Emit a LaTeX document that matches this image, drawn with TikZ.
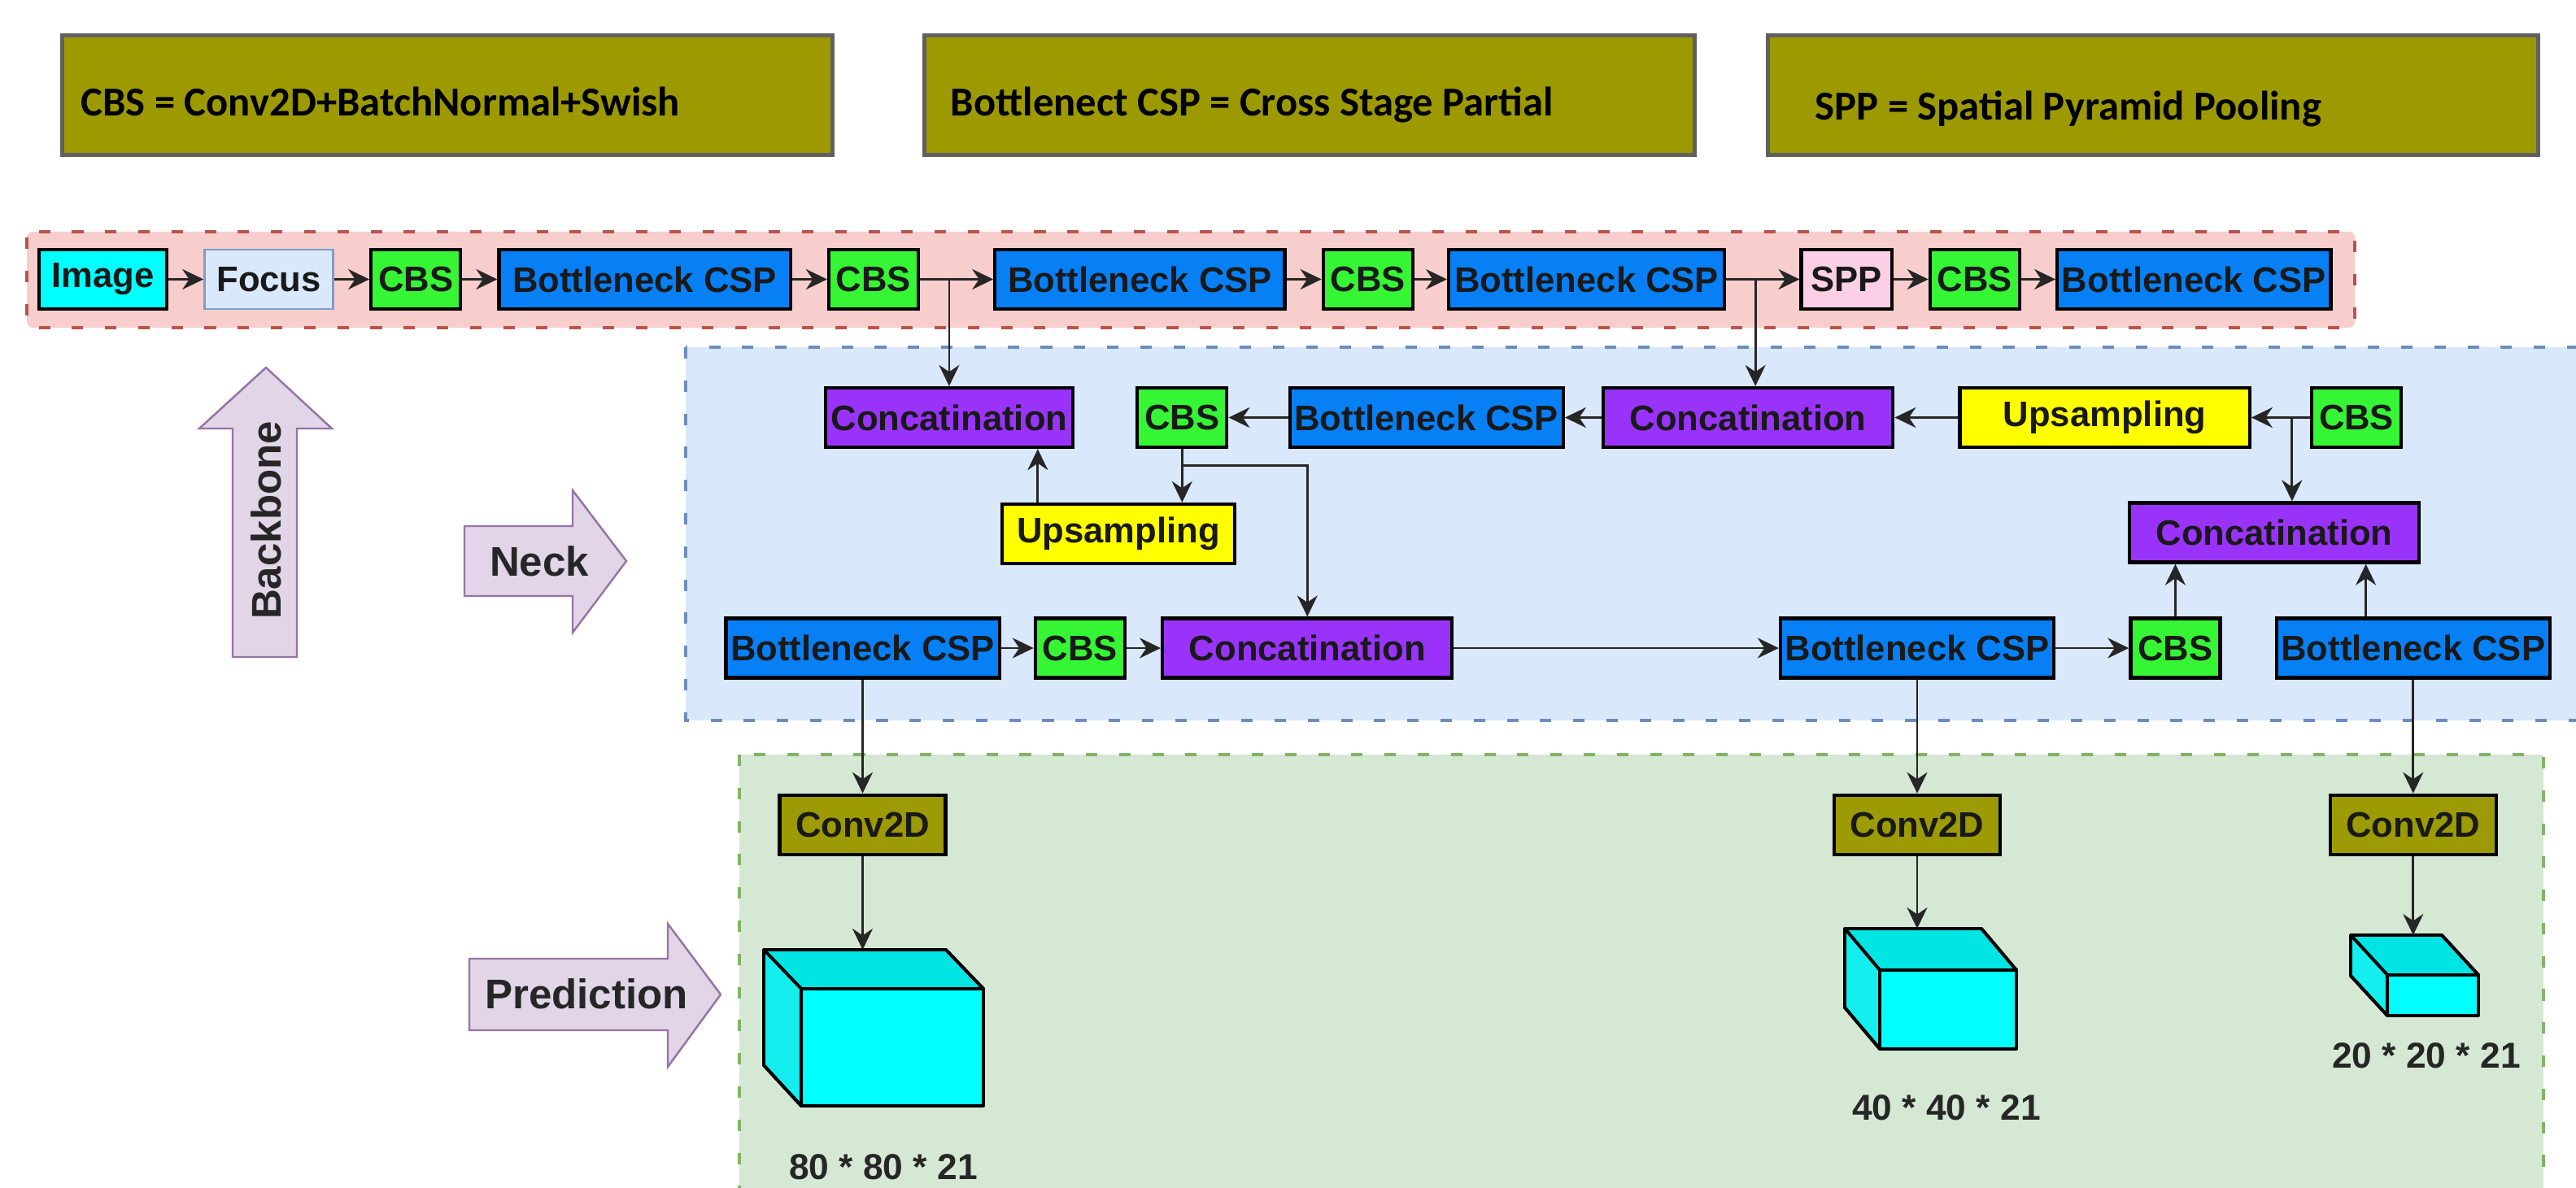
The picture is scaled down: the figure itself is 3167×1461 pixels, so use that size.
\documentclass[tikz,border=0pt]{standalone}
\usepackage{fontspec}
\setmainfont{Liberation Sans}
\newfontfamily\legendfont{Carlito}
\usepackage{tikz}
\usetikzlibrary{positioning,calc,arrows.meta}

\definecolor{imgcyan}{HTML}{00FFFF}
\definecolor{focusfill}{HTML}{DAE8FC}
\definecolor{focusline}{HTML}{7F9CC8}
\definecolor{cbsgreen}{HTML}{35F535}
\definecolor{cspblue}{HTML}{0880F5}
\definecolor{spppink}{HTML}{FBD0E6}
\definecolor{catpurple}{HTML}{9A33FA}
\definecolor{upyellow}{HTML}{FFFF00}
\definecolor{convolive}{HTML}{9C9A05}
\definecolor{legfill}{HTML}{9C9A00}
\definecolor{legline}{HTML}{606060}
\definecolor{bbfill}{HTML}{F8CECC}
\definecolor{bbline}{HTML}{B85450}
\definecolor{neckfill}{HTML}{DAE8FC}
\definecolor{neckline}{HTML}{6C8EBF}
\definecolor{predfill}{HTML}{D5E8D4}
\definecolor{predline}{HTML}{82B366}
\definecolor{tagfill}{HTML}{E1D5E7}
\definecolor{tagline}{HTML}{9673A6}
\definecolor{cubetop}{HTML}{00E4E4}
\definecolor{cubeside}{HTML}{14EEEE}

\begin{document}
\begin{tikzpicture}[
    x=0.01cm, y=-0.01cm,
    node distance=4.3mm,
    blk/.style={draw=black, line width=1.2pt, minimum height=0.73cm, inner sep=1pt, text=black!90, font=\bfseries\fontsize{12.4}{14}\selectfont},
    cbs/.style={blk, fill=cbsgreen, minimum width=1.1cm},
    csp/.style={blk, fill=cspblue, minimum width=3.36cm},
    cat/.style={blk, fill=catpurple, minimum width=3.56cm},
    ups/.style={blk, fill=upyellow, minimum width=3.56cm},
    conv/.style={blk, fill=convolive, minimum width=2.04cm},
    arrow/.style={-{Stealth[length=2.6mm, width=2.5mm]}, line width=0.8pt, draw=black!85},
    zone/.style={line width=1.15pt, dash pattern=on 4pt off 7.6pt},
    tag/.style={fill=tagfill, draw=tagline, line width=0.7pt},
    tagtext/.style={font=\bfseries\fontsize{14.5}{17}\selectfont, text=black!85},
    legend/.style={fill=legfill, draw=legline, line width=1.3pt, minimum width=9.46cm, minimum height=1.47cm},
    legendtext/.style={font=\legendfont\bfseries\fontsize{14.4}{17}\selectfont, inner sep=0pt, anchor=base west},
    dims/.style={font=\bfseries\fontsize{12.6}{15}\selectfont, text=black!85},
    face/.style={draw=black, line width=1.1pt, line join=round}
  ]
    \useasboundingbox (0,0) rectangle (3167,1461);
    \fill[white] (0,0) rectangle (3167,1461);
    \clip (0,0) rectangle (3167,1461);

    % legend
    \node[legend] (legcbs) at (550,117) {};
    \node[legend] (legcsp) at (1610,117) {};
    \node[legend] (legspp) at (2647,117) {};
    \node[legendtext] (legcbstext) at (99,143) {CBS = Conv2D+BatchNormal+Swish};
    \node[legendtext] (legcsptext) at (1168,143) {Bottlenect CSP = Cross Stage Partial};
    \node[legendtext] (legspptext) at (2231,148) {SPP = Spatial Pyramid Pooling};

    % zones
    \draw[zone, fill=bbfill, draw=bbline, rounded corners=2pt] (33,285) rectangle (2895,403);
    \draw[zone, fill=neckfill, draw=neckline] (843,427) rectangle (3220,886);
    \draw[zone, fill=predfill, draw=predline] (909,928) rectangle (3127,1500);

    % side tags
    \draw[tag] (327,452) -- (408,527) -- (365,527) -- (365,808) -- (286,808) -- (286,527) -- (245,527) -- cycle;
    \node[tagtext, rotate=90] (bbtag) at (327,640) {Backbone};
    \draw[tag] (571,647) -- (704,647) -- (704,603) -- (770,690) -- (704,778) -- (704,733) -- (571,733) -- cycle;
    \node[tagtext] (necktag) at (663,690) {Neck};
    \draw[tag] (577,1179) -- (821,1179) -- (821,1136) -- (886,1223) -- (821,1312) -- (821,1267) -- (577,1267) -- cycle;
    \node[tagtext] (predtag) at (721,1222) {Prediction};

    % backbone
    \node[blk, fill=imgcyan, minimum width=1.57cm] (img) at (126.5,343.5) {Image};
    \node[blk, fill=focusfill, draw=focusline, line width=0.8pt, minimum width=1.58cm, right=of img] (focus) {Focus};
    \node[cbs, right=of focus] (cbs1) {CBS};
    \node[csp, minimum width=3.58cm, right=of cbs1] (csp1) {Bottleneck CSP};
    \node[cbs, right=of csp1] (cbs2) {CBS};
    \node[csp, minimum width=3.56cm, right=9mm of cbs2] (csp2) {Bottleneck CSP};
    \node[cbs, right=of csp2] (cbs3) {CBS};
    \node[csp, minimum width=3.39cm, right=4mm of cbs3] (csp3) {Bottleneck CSP};
    \node[blk, fill=spppink, minimum width=1.11cm, right=9mm of csp3] (spp) {SPP};
    \node[cbs, right=of spp] (cbs4) {CBS};
    \node[csp, right=4.2mm of cbs4] (csp4) {Bottleneck CSP};

    \draw[arrow] (img) -- (focus);
    \draw[arrow] (focus) -- (cbs1);
    \draw[arrow] (cbs1) -- (csp1);
    \draw[arrow] (csp1) -- (cbs2);
    \draw[arrow] (cbs2) -- (csp2);
    \draw[arrow] (csp2) -- (cbs3);
    \draw[arrow] (cbs3) -- (csp3);
    \draw[arrow] (csp3) -- (spp);
    \draw[arrow] (spp) -- (cbs4);
    \draw[arrow] (cbs4) -- (csp4);

    % neck, top row (runs right to left)
    \node[cbs] (cbs6) at (2897,513.5) {CBS};
    \node[ups, left=7.2mm of cbs6] (up2) {Upsampling};
    \node[cat, left=7.8mm of up2] (cat2) {Concatination};
    \node[csp, left=4.5mm of cat2] (csp5) {Bottleneck CSP};
    \node[cbs, left=7.3mm of csp5] (cbs5) {CBS};
    \node[cat, minimum width=3.04cm, left=7.5mm of cbs5] (cat1) {Concatination};

    % neck, middle row
    \node[ups, minimum width=2.86cm] (up1) at (1375,656.5) {Upsampling};
    \node[cat] (cat4) at (2796,655) {Concatination};

    % neck, bottom row
    \node[csp] (csp6) at (1060.5,797) {Bottleneck CSP};
    \node[cbs, right=4mm of csp6] (cbs7) {CBS};
    \node[cat, right=4.2mm of cbs7] (cat3) {Concatination};
    \node[csp] (csp7) at (2357,797) {Bottleneck CSP};
    \node[cbs, right=9mm of csp7] (cbs8) {CBS};
    \node[csp, right=6.5mm of cbs8] (csp8) {Bottleneck CSP};

    \draw[arrow] (cat1.north |- cbs2.east) -- (cat1.north);
    \draw[arrow] ([xshift=0.9mm]cat2.north |- csp3.east) -- ([xshift=0.9mm]cat2.north);

    \draw[arrow] (cbs6) -- (up2);
    \draw[arrow] (up2) -- (cat2);
    \draw[arrow] (cat2) -- (csp5);
    \draw[arrow] (csp5) -- (cbs5);
    \draw[arrow] ([xshift=-2.2mm]cbs6.west) -- ([xshift=-2.2mm]cbs6.west |- cat4.north);
    \draw[arrow] (cbs5.south) -- (cbs5.south |- up1.north);
    \draw[arrow] ([yshift=-2mm]cbs5.south) -| (cat3.north);
    \draw[arrow] ([xshift=4.6mm]up1.north west) -- ([xshift=4.6mm]up1.north west |- cat1.south);

    \draw[arrow] (csp6) -- (cbs7);
    \draw[arrow] (cbs7) -- (cat3);
    \draw[arrow] (cat3) -- (csp7);
    \draw[arrow] (csp7) -- (cbs8);
    \draw[arrow] (cbs8.north) -- (cbs8.north |- cat4.south);
    \draw[arrow] ([xshift=11.2mm]csp8.north west) -- ([xshift=11.2mm]csp8.north west |- cat4.south);

    % prediction heads
    \node[conv, below=14mm of csp6] (conv1) {Conv2D};
    \node[conv, below=14mm of csp7] (conv2) {Conv2D};
    \node[conv, below=14mm of csp8] (conv3) {Conv2D};

    \draw[arrow] (csp6) -- (conv1);
    \draw[arrow] (csp7) -- (conv2);
    \draw[arrow] (csp8) -- (conv3);

    % output tensors
    \fill[face, fill=cubetop] (939,1168) -- (1163,1168) -- (1209,1216) -- (985,1216) -- cycle;
    \fill[face, fill=cubeside] (939,1168) -- (985,1216) -- (985,1360) -- (939,1310) -- cycle;
    \draw[face, fill=imgcyan] (985,1216) rectangle (1209,1360);
    \draw[face] (939,1168) -- (1163,1168) -- (1209,1216) (939,1168) -- (939,1310) -- (985,1360);
    \coordinate (top1) at (1056,1168);

    \fill[face, fill=cubetop] (2268,1142) -- (2436,1142) -- (2479,1193) -- (2311,1193) -- cycle;
    \fill[face, fill=cubeside] (2268,1142) -- (2311,1193) -- (2311,1290) -- (2268,1239) -- cycle;
    \draw[face, fill=imgcyan] (2311,1193) rectangle (2479,1290);
    \draw[face] (2268,1142) -- (2436,1142) -- (2479,1193) (2268,1142) -- (2268,1239) -- (2311,1290);
    \coordinate (top2) at (2355,1142);

    \fill[face, fill=cubetop] (2890,1150) -- (3002,1150) -- (3047,1199) -- (2935,1199) -- cycle;
    \fill[face, fill=cubeside] (2890,1150) -- (2935,1199) -- (2935,1249) -- (2890,1200) -- cycle;
    \draw[face, fill=imgcyan] (2935,1199) rectangle (3047,1249);
    \draw[face] (2890,1150) -- (3002,1150) -- (3047,1199) (2890,1150) -- (2890,1200) -- (2935,1249);
    \coordinate (top3) at (2964,1150);

    \draw[arrow] (conv1.south) -- (conv1.south |- top1);
    \draw[arrow] (conv2.south) -- (conv2.south |- top2);
    \draw[arrow] (conv3.south) -- (conv3.south |- top3);

    \node[dims] (dim1) at (1086,1435) {80 * 80 * 21};
    \node[dims] (dim2) at (2393,1362) {40 * 40 * 21};
    \node[dims] (dim3) at (2983,1298) {20 * 20 * 21};
  \end{tikzpicture}
\end{document}
